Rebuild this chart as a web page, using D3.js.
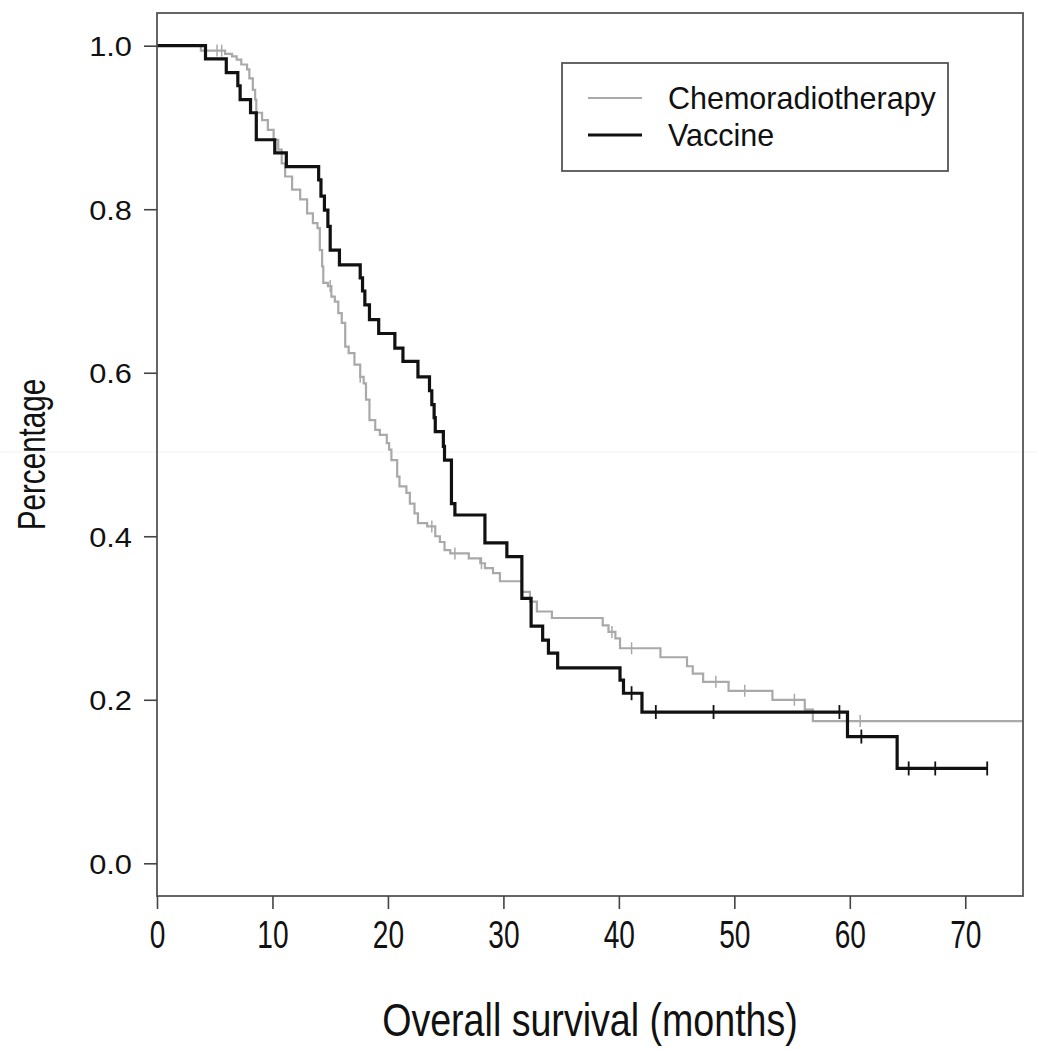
<!DOCTYPE html>
<html>
<head>
<meta charset="utf-8">
<script src="https://cdn.jsdelivr.net/npm/d3@7/dist/d3.min.js"></script>
<style>
  html, body { margin: 0; padding: 0; background: #fff; }
  svg { display: block; }
  text { font-family: "Liberation Sans", Arial, Helvetica, sans-serif; fill: #111; }
</style>
</head>
<body>
<svg id="chart" width="1037" height="1050"></svg>
<script>
// ---- data ----
const seriesNames = ["Chemoradiotherapy", "Vaccine"];

const chemoTimes = [0, 3.8, 5.9, 6.5, 6.9, 7.3, 7.8, 8.0, 8.3, 8.5, 8.6, 9.1, 9.6, 10.1, 10.5, 10.8, 11.1, 11.7, 12.4, 13.0, 13.5, 13.9,
  14.1, 14.3, 14.4, 14.8, 15.1, 15.4, 15.7, 16.0, 16.3, 16.6, 17.1, 17.6, 17.9, 18.1, 18.4, 18.9, 19.3, 19.9, 20.1, 20.3, 20.8, 21.0,
  21.6, 21.9, 22.3, 22.6, 23.4, 24.1, 24.5, 24.9, 25.4, 27.0, 28.0, 28.4, 29.1, 29.7, 31.6, 32.3, 32.9, 34.2, 38.6, 39.1, 39.7, 40.1,
  43.6, 45.9, 46.4, 47.3, 49.5, 53.3, 56.1, 56.8];
const chemoSurv = [1.0, 0.994, 0.990, 0.987, 0.983, 0.977, 0.971, 0.960, 0.946, 0.934, 0.918, 0.909, 0.897, 0.885, 0.873, 0.856, 0.840, 0.824, 0.812, 0.795, 0.783, 0.777,
  0.750, 0.730, 0.710, 0.706, 0.693, 0.687, 0.673, 0.661, 0.632, 0.624, 0.610, 0.595, 0.587, 0.567, 0.542, 0.530, 0.524, 0.514, 0.506, 0.493, 0.473, 0.461,
  0.453, 0.440, 0.428, 0.416, 0.412, 0.400, 0.393, 0.383, 0.379, 0.373, 0.367, 0.361, 0.355, 0.345, 0.332, 0.320, 0.308, 0.300, 0.291, 0.283, 0.275, 0.263,
  0.252, 0.241, 0.232, 0.222, 0.211, 0.200, 0.188, 0.174];
const chemoCensor = [5.2, 5.6, 15.0, 17.6, 23.8, 25.8, 28.1, 39.4, 41.1, 48.4, 50.9, 55.2, 60.9];
const chemoEnd = 75;

const vaccineTimes = [0, 4.2, 6.0, 7.0, 7.2, 8.1, 8.6, 10.2, 11.2, 14.0, 14.2, 14.5, 14.8, 15.0, 15.8, 17.6, 17.8, 18.0, 18.4, 19.2,
  20.6, 21.3, 22.6, 23.6, 23.8, 24.0, 24.1, 24.8, 24.9, 25.5, 25.8, 28.4, 30.3, 31.6, 32.4, 33.4, 33.9, 34.7, 40.1, 40.4, 42.0, 59.8, 64.1];
const vaccineSurv = [1.0, 0.984, 0.967, 0.951, 0.934, 0.918, 0.885, 0.869, 0.852, 0.836, 0.816, 0.799, 0.779, 0.750, 0.732, 0.716, 0.700, 0.683, 0.665, 0.648,
  0.630, 0.614, 0.595, 0.578, 0.561, 0.545, 0.528, 0.510, 0.493, 0.440, 0.426, 0.392, 0.375, 0.324, 0.290, 0.273, 0.257, 0.239, 0.224, 0.208, 0.185, 0.155, 0.116];
const vaccineCensor = [41.1, 43.2, 48.2, 59.1, 61.0, 65.1, 67.4, 71.9];
const vaccineEnd = 71.9;

const xTicks = [0, 10, 20, 30, 40, 50, 60, 70];
const yTicks = [0, 0.2, 0.4, 0.6, 0.8, 1.0];
const yTickLabels = ["0.0", "0.2", "0.4", "0.6", "0.8", "1.0"];

// ---- layout ----
const svg = d3.select("#chart");
const x = d3.scaleLinear().domain([0, 75]).range([157, 1023]);
const y = d3.scaleLinear().domain([-0.04, 1.04]).range([896, 13]);

// faint scan artifact line
svg.append("line").attr("x1", 0).attr("x2", 1037).attr("y1", 452).attr("y2", 452)
  .attr("stroke", "#f2f2f2").attr("stroke-width", 1);

function stepPoints(times, surv, end) {
  const pts = times.map((t, i) => [t, surv[i]]);
  pts.push([end, surv[surv.length - 1]]);
  return pts;
}
function survAt(times, surv, t) {
  let v = surv[0];
  for (let i = 0; i < times.length; i++) { if (times[i] <= t) v = surv[i]; }
  return v;
}

const line = d3.line().x(d => x(d[0])).y(d => y(d[1])).curve(d3.curveStepAfter);

const plot = svg.append("g");
plot.append("clipPath").attr("id", "clip").append("rect")
  .attr("x", x(0)).attr("y", y(1.04)).attr("width", x(75) - x(0)).attr("height", y(-0.04) - y(1.04));
const inner = plot.append("g").attr("clip-path", "url(#clip)");

const series = [
  { name: seriesNames[0], times: chemoTimes, surv: chemoSurv, censor: chemoCensor, end: chemoEnd, color: "#a9a9a9", width: 2.2, tick: 6 },
  { name: seriesNames[1], times: vaccineTimes, surv: vaccineSurv, censor: vaccineCensor, end: vaccineEnd, color: "#111", width: 3.2, tick: 7 }
];

series.forEach(s => {
  inner.append("path")
    .attr("d", line(stepPoints(s.times, s.surv, s.end)))
    .attr("fill", "none").attr("stroke", s.color).attr("stroke-width", s.width)
    .attr("stroke-linejoin", "miter");
  inner.selectAll(null).data(s.censor).enter().append("line")
    .attr("x1", d => x(d)).attr("x2", d => x(d))
    .attr("y1", d => y(survAt(s.times, s.surv, d)) - s.tick)
    .attr("y2", d => y(survAt(s.times, s.surv, d)) + s.tick)
    .attr("stroke", s.color).attr("stroke-width", s.width > 3 ? 1.8 : 1.5);
});

// frame
svg.append("rect").attr("x", x(0)).attr("y", y(1.04))
  .attr("width", x(75) - x(0)).attr("height", y(-0.04) - y(1.04))
  .attr("fill", "none").attr("stroke", "#555").attr("stroke-width", 1.8);

// axes
const xAxis = d3.axisBottom(x).tickValues(xTicks).tickSize(13).tickFormat(d3.format("d"));
const gx = svg.append("g").attr("transform", `translate(0,${y(-0.04)})`).call(xAxis);
gx.select(".domain").remove();
gx.selectAll(".tick line").attr("stroke", "#444").attr("stroke-width", 1.6);
gx.selectAll(".tick text").remove();
gx.selectAll(".tick").append("text")
  .attr("text-anchor", "middle")
  .attr("transform", "translate(0,52) scale(0.74,1)")
  .attr("font-size", 38)
  .attr("fill", "#111")
  .text(d => d3.format("d")(d));

const yAxis = d3.axisLeft(y).tickValues(yTicks).tickSize(13).tickFormat((d, i) => yTickLabels[i]);
const gy = svg.append("g").attr("transform", `translate(${x(0)},0)`).call(yAxis);
gy.select(".domain").remove();
gy.selectAll(".tick line").attr("stroke", "#444").attr("stroke-width", 1.6);
gy.selectAll(".tick text").remove();
gy.selectAll(".tick").append("text")
  .attr("text-anchor", "end")
  .attr("transform", "translate(-25,0) scale(1.12,1)")
  .attr("dy", "0.36em")
  .attr("font-size", 27.5)
  .attr("fill", "#111")
  .text((d, i) => yTickLabels[i]);

// axis titles
svg.append("text")
  .attr("text-anchor", "middle")
  .attr("transform", `translate(${(x(0) + x(75)) / 2},1036) scale(0.8,1)`)
  .attr("font-size", 47)
  .text("Overall survival (months)");

svg.append("text")
  .attr("text-anchor", "middle")
  .attr("transform", `translate(45,${(y(1.04) + y(-0.04)) / 2}) rotate(-90) scale(0.76,1)`)
  .attr("font-size", 39)
  .text("Percentage");

// legend
const lg = svg.append("g");
lg.append("rect").attr("x", 562).attr("y", 63).attr("width", 386).attr("height", 108)
  .attr("fill", "#fff").attr("stroke", "#555").attr("stroke-width", 1.8);
series.forEach((s, i) => {
  const cy = 98 + i * 37;
  lg.append("line").attr("x1", 588).attr("x2", 642).attr("y1", cy).attr("y2", cy)
    .attr("stroke", s.color).attr("stroke-width", s.width);
  lg.append("text").attr("x", 668).attr("y", cy).attr("dy", "0.36em")
    .attr("font-size", 30.5).text(s.name);
});
</script>
</body>
</html>
